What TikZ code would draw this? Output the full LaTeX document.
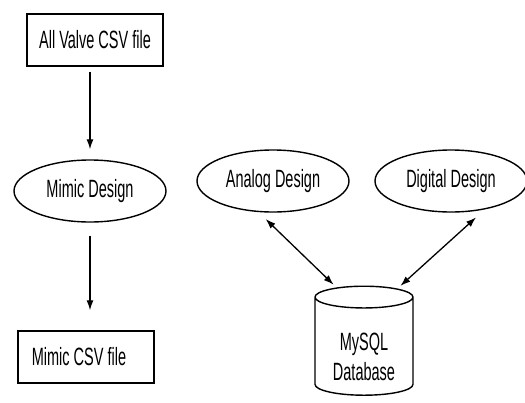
\documentclass[tikz,border=0pt]{standalone}
\usepackage{fontspec}
\setmainfont{Liberation Sans}[FakeStretch=0.58]
\usetikzlibrary{shapes.geometric,arrows.meta}
\tikzset{
  every node/.style={font=\fontsize{25}{30}\selectfont},
  filebox/.style={draw,line width=1.4pt,minimum width=136pt,minimum height=52pt,inner sep=0pt},
  design/.style={draw,ellipse,line width=1.4pt,minimum width=152pt,minimum height=62pt,inner sep=0pt},
  store/.style={draw,cylinder,shape border rotate=90,aspect=0.45,line width=1.4pt,
    minimum width=98pt,minimum height=109pt,inner sep=0pt},
  flow/.style={line width=1.3pt,-{Latex[length=10pt,width=7pt]}},
  link/.style={line width=1.3pt,{Latex[length=10pt,width=7pt]}-{Latex[length=10pt,width=7pt]}},
}
\colorlet{ink}{black}

\begin{document}
\begin{tikzpicture}[x=1pt,y=-1pt]
\useasboundingbox (0,0) rectangle (525,402);
\node[filebox] (valves) at (95,40) {All Valve CSV file};
\node[design] (mimic) at (90,191) {Mimic Design};
\node[filebox] (mimiccsv) at (86,357) {\hspace*{-14pt}Mimic CSV file};
\node[design] (analog) at (273,181) {Analog Design};
\node[design] (digital) at (451,181) {Digital Design};
\node[store,label={[align=center,yshift=-10pt]center:MySQL\\Database}] (db) at (364,346.5) {\phantom{MySQL}};
\draw[flow,shorten <=5pt,shorten >=10pt] (mimic.north |- valves.south) -- (mimic.north);
\draw[flow,shorten <=13pt,shorten >=20pt] (mimic.south) -- (mimic.south |- mimiccsv.north);
\draw[link,shorten <=10pt,shorten >=4pt] (analog.-115) -- (db.115);
\draw[link,shorten <=12pt,shorten >=4pt] (digital.-40) -- (db.60);
\end{tikzpicture}
\end{document}
